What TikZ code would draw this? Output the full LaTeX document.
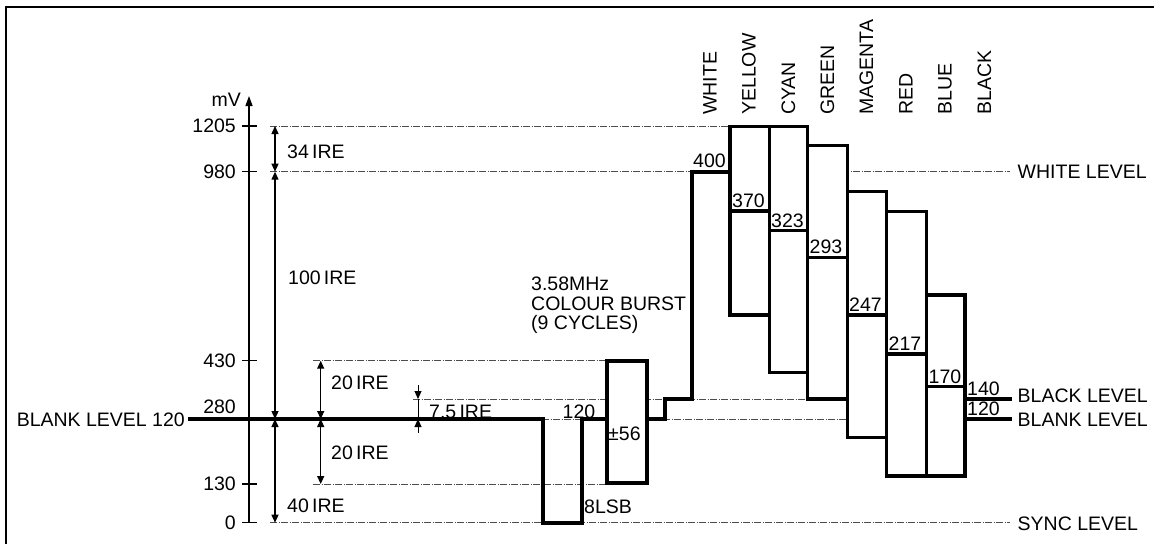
\documentclass[tikz,border=0pt]{standalone}
\usepackage{fontspec}
\setmainfont{Liberation Sans}
\usetikzlibrary{arrows.meta}
\begin{document}
\begin{tikzpicture}[x=1pt,y=-1pt,
  every node/.style={font=\fontsize{19.5}{19.5}\selectfont, inner sep=0pt},
  guide/.style={draw=black!70, line width=0.6pt, dash pattern=on 7pt off 1.5pt on 1pt off 1.5pt},
  wave/.style={line width=4pt, line join=miter},
  cbox/.style={line width=3.5pt, fill=white, line join=miter},
  dim/.style={line width=1.3pt, {Triangle[length=8pt,width=7pt]}-{Triangle[length=8pt,width=7pt]}},
  tip/.style={line width=1pt, -{Triangle[length=8pt,width=7pt]}},
  tick/.style={line width=1.3pt},
  lvl/.style={anchor=west},
  axl/.style={anchor=east},
  val/.style={anchor=south west, inner sep=1pt},
  bar/.style={rotate=90, anchor=west}]
\useasboundingbox (0,0) rectangle (1154,544);
% frame
\draw[line width=2.5pt] (6,544) -- (6,7) -- (1154,7);

% guide lines (behind everything)
\draw[guide] (270,126) -- (730,126);
\draw[guide] (270,171.7) -- (1010,171.7);
\draw[guide] (313,360.7) -- (607,360.7);
\draw[guide] (413,399) -- (965,399);
\draw[guide] (542,419) -- (965,419);
\draw[guide] (313,484) -- (607,484);
\draw[guide] (270,522.7) -- (1010,522.7);

% axis
\coordinate (a0) at (249,522.7);
\coordinate (atop) at (249,96);
\draw[line width=1.3pt, -{Triangle[length=10pt,width=7pt]}] (a0) -- (atop);
\node[anchor=east] (mv) at (241,100) {mV};
\foreach \y/\t in {126/1205, 171.7/980, 360.7/430, 484/130, 522.7/0}{
  \draw[tick] (242,\y) -- (257,\y);
  \node[axl] (l\t) at (236,\y) {\t};
}
\node[axl] (l280) at (236,406.5) {280};

% dimension arrows
\coordinate (d1) at (275,126);
\coordinate (d2) at (275,171.7);
\coordinate (d3) at (275,419);
\coordinate (d4) at (275,522.7);
\draw[dim] (d1) -- (d2);
\draw[dim] (d2) -- (d3);
\draw[dim] (d3) -- (d4);
\coordinate (e1) at (320.7,360.7);
\coordinate (e2) at (320.7,419);
\coordinate (e3) at (320.7,484);
\draw[dim] (e1) -- (e2);
\draw[dim] (e2) -- (e3);
\coordinate (f0) at (418,385);
\coordinate (f1) at (418,399);
\coordinate (f2) at (418,419);
\coordinate (f3) at (418,433);
\draw[tip] (f0) -- (f1);
\draw[line width=1pt] (f1) -- (f2);
\draw[tip] (f3) -- (f2);

\node[lvl] (i34) at (287,151.7) {34\,IRE};
\node[lvl] (i100) at (288,278) {100\,IRE};
\node[lvl] (i40) at (287,506) {40\,IRE};
\node[lvl] (i20a) at (331,383) {20\,IRE};
\node[lvl] (i20b) at (331,453) {20\,IRE};
\node[lvl] (i75) at (429,411.5) {7.5\,IRE};

% waveform
\draw[wave] (188,419) -- (542.7,419) -- (542.7,522.7) -- (581.7,522.7) -- (581.7,419) -- (606.7,419);
\draw[wave] (646.7,419) -- (665,419) -- (665,399) -- (691.7,399) -- (691.7,171.7) -- (731,171.7);
\draw[wave, fill=white] (606.7,360.7) rectangle (646.7,483.3);

% colour bars
\draw[cbox] (730,126.7) rectangle (769.3,315);
\draw[cbox] (769.3,126.7) rectangle (807.7,372.7);
\draw[cbox] (807.7,145.7) rectangle (847.3,399);
\draw[cbox] (847.3,191.7) rectangle (886.7,437.3);
\draw[cbox] (886.7,211.7) rectangle (926.7,476);
\draw[cbox] (926.7,295) rectangle (965,476);
\draw[cbox] (730,211) -- (769.3,211);
\draw[cbox] (769.3,230.7) -- (807.7,230.7);
\draw[cbox] (807.7,257.3) -- (847.3,257.3);
\draw[cbox] (847.3,315) -- (886.7,315);
\draw[cbox] (886.7,354) -- (926.7,354);
\draw[cbox] (926.7,386.7) -- (965,386.7);
\draw[wave] (965,399) -- (1012,399);
\draw[wave] (965,419) -- (1012,419);

% values
\node[val] (v400) at (692,169) {400};
\node[val] (v370) at (731,209) {370};
\node[val] (v323) at (770,228.7) {323};
\node[val] (v293) at (808.5,255.3) {293};
\node[val] (v247) at (848,313) {247};
\node[val] (v217) at (887.5,352) {217};
\node[val] (v170) at (927.5,384.7) {170};
\node[val] (v140) at (966,397) {140};
\node[val] (v120b) at (966,417) {120};
\node (v120) at (579,411.5) {120};
\node[anchor=west] (v56) at (608,433.3) {±56};
\node[anchor=west] (lsb) at (584,506.7) {8LSB};
\node[anchor=west, align=left] (burst) at (531,305.5) {3.58MHz\\COLOUR BURST\\(9 CYCLES)};

% bar names
\node[bar] (nw) at (710,115) {WHITE};
\node[bar] (ny) at (749,115) {YELLOW};
\node[bar] (nc) at (788.5,115) {CYAN};
\node[bar] (ng) at (827.5,115) {GREEN};
\node[bar] (nm) at (866.5,115) {MAGENTA};
\node[bar] (nr) at (906,115) {RED};
\node[bar] (nb) at (945,115) {BLUE};
\node[bar] (nk) at (984.5,115) {BLACK};

% level labels
\node[anchor=east] (bl) at (185,420) {BLANK LEVEL 120};
\node[lvl] (wl) at (1017.5,171.7) {WHITE LEVEL};
\node[lvl] (kl) at (1017.5,396) {BLACK LEVEL};
\node[lvl] (nl) at (1017.5,419.5) {BLANK LEVEL};
\node[lvl] (sl) at (1017.5,523.3) {SYNC LEVEL};
\end{tikzpicture}
\end{document}
